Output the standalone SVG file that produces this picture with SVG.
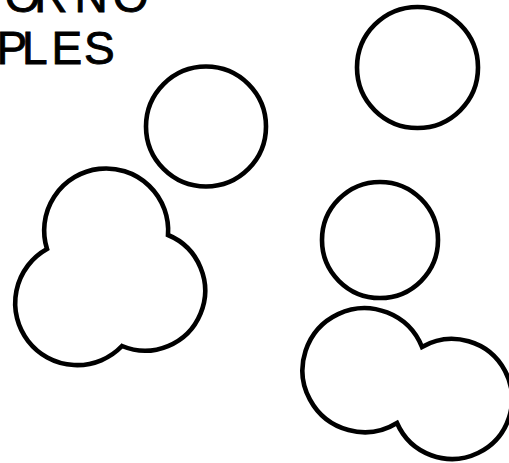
<svg xmlns="http://www.w3.org/2000/svg" width="509" height="463" viewBox="0 0 509 463">
<style>
.shape{fill:none;stroke:#000;stroke-width:4.6;stroke-linejoin:miter}
.lbl{font-family:"Liberation Sans",Arial,sans-serif;font-size:46px;fill:#000;stroke:#000;stroke-width:0.9}
</style>
<rect width="509" height="463" fill="#fff"/>
<g id="title">
<text class="lbl" x="4.8 34.3 74.5 112.8" y="12">ORNO</text>
<text class="lbl" x="-3.5 22 51.5 84" y="64">PLES</text>
</g>
<g id="circle-a"><circle class="shape" cx="206" cy="126.5" r="60"/></g>
<g id="circle-b"><circle class="shape" cx="417.5" cy="67.5" r="60.5"/></g>
<g id="circle-c"><circle class="shape" cx="380" cy="240" r="58"/></g>
<g id="trefoil"><path class="shape" d="M47 249 A62 62 0 1 1 168 235 A60 60 0 1 1 122 346 A62 62 0 1 1 47 249 Z"/></g>
<g id="pair"><path class="shape" d="M422 347 A60 60 0 1 1 397 423 A62 62 0 1 1 422 347 Z"/></g>
<g id="connectors"/>
</svg>
